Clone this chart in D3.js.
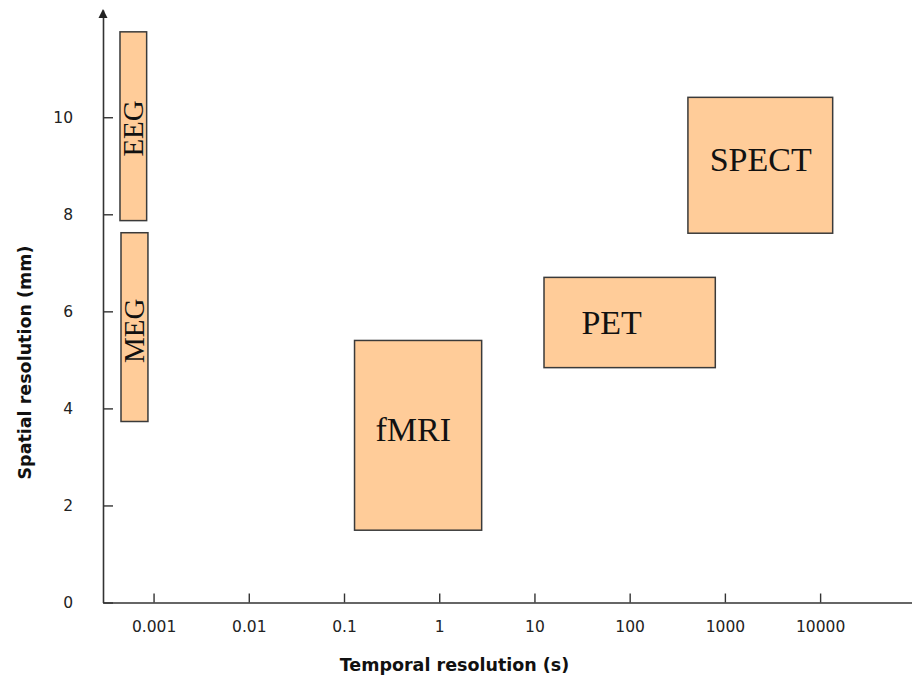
<!DOCTYPE html>
<html>
<head>
<meta charset="utf-8">
<script src="https://cdn.jsdelivr.net/npm/d3@7/dist/d3.min.js"></script>
<style>
  body { margin: 0; background: #fff; }
  svg { display: block; }
</style>
</head>
<body>
<svg id="chart" width="912" height="676"></svg>
<script>
// ---- data ----
const techniques = ["EEG", "MEG", "fMRI", "PET", "SPECT"];
// temporal resolution range (s)
const tMin = [0.000444, 0.000455, 0.129, 12.6, 409];
const tMax = [0.000846, 0.000873, 2.79, 793, 13550];
// spatial resolution range (mm)
const sMin = [7.87, 3.73, 1.49, 4.84, 7.61];
const sMax = [11.76, 7.62, 5.40, 6.70, 10.41];
// label anchor (data units)
const labelT = [0.00061, 0.00063, 0.533, 64.7, 2376];
const labelS = [9.77, 5.60, 3.56, 5.76, 9.12];
const labelVertical = [true, true, false, false, false];

const xTicks = [0.001, 0.01, 0.1, 1, 10, 100, 1000, 10000];
const xTickLabels = ["0.001", "0.01", "0.1", "1", "10", "100", "1000", "10000"];
const yTicks = [0, 2, 4, 6, 8, 10];
const yTickLabels = ["0", "2", "4", "6", "8", "10"];

const xTitle = "Temporal resolution (s)";
const yTitle = "Spatial resolution (mm)";

(function () {
// ---- layout ----
const svg = d3.select("#chart");
const mLeft = 103, mRight = 912, mBottom = 602.5, mTop = 10;

const x = d3.scaleLog()
  .domain([Math.pow(10, -3.531), Math.pow(10, 4.965)])
  .range([mLeft, mRight]);
const y = d3.scaleLinear()
  .domain([0, 12.21])
  .range([mBottom, mTop]);

const rows = techniques.map((name, i) => ({
  name, t0: tMin[i], t1: tMax[i], s0: sMin[i], s1: sMax[i],
  lt: labelT[i], ls: labelS[i], vert: labelVertical[i]
}));

// rectangles
svg.append("g").selectAll("rect").data(rows).join("rect")
  .attr("x", d => x(d.t0))
  .attr("y", d => y(d.s1))
  .attr("width", d => x(d.t1) - x(d.t0))
  .attr("height", d => y(d.s0) - y(d.s1))
  .attr("fill", "#FFCC99")
  .attr("stroke", "#3a3a3a")
  .attr("stroke-width", 1.5);

// labels
svg.append("g").selectAll("text").data(rows).join("text")
  .attr("transform", d => d.vert
      ? `translate(${(x(d.t0) + x(d.t1)) / 2},${y(d.ls)}) rotate(-90)`
      : `translate(${x(d.lt)},${y(d.ls)})`)
  .attr("text-anchor", "middle")
  .attr("dominant-baseline", "central")
  .attr("font-family", "'Liberation Serif', 'Times New Roman', serif")
  .attr("font-size", d => d.vert ? 29 : 34)
  .attr("fill", "#111")
  .text(d => d.name);

// axes
const xAxis = d3.axisBottom(x)
  .tickValues(xTicks)
  .tickFormat((d, i) => xTickLabels[i])
  .tickSizeInner(-9).tickSizeOuter(0).tickPadding(18);
const yAxis = d3.axisLeft(y)
  .tickValues(yTicks)
  .tickFormat((d, i) => yTickLabels[i])
  .tickSizeInner(-10).tickSizeOuter(0).tickPadding(30);

const gx = svg.append("g").attr("transform", `translate(0,${mBottom})`).call(xAxis);
const gy = svg.append("g").attr("transform", `translate(${mLeft},0)`).call(yAxis);

[gx, gy].forEach(g => {
  g.select(".domain").attr("stroke", "#333").attr("stroke-width", 1.6);
  g.selectAll(".tick line").attr("stroke", "#333").attr("stroke-width", 1.4);
  g.selectAll(".tick text")
    .attr("font-family", "'DejaVu Sans', Verdana, sans-serif")
    .attr("font-size", 15.5)
    .attr("fill", "#222");
});

// arrow head on y axis
svg.append("path")
  .attr("d", d3.line()([[mLeft - 4.5, mTop + 8], [mLeft, mTop - 1], [mLeft + 4.5, mTop + 8]]) + "Z")
  .attr("fill", "#222");

// titles
svg.append("text")
  .attr("x", 454.5)
  .attr("y", 671)
  .attr("text-anchor", "middle")
  .attr("font-family", "'DejaVu Sans', Verdana, sans-serif")
  .attr("font-weight", "bold")
  .attr("font-size", 17.5)
  .attr("fill", "#111")
  .text(xTitle);

svg.append("text")
  .attr("transform", `translate(31,362.5) rotate(-90)`)
  .attr("text-anchor", "middle")
  .attr("font-family", "'DejaVu Sans', Verdana, sans-serif")
  .attr("font-weight", "bold")
  .attr("font-size", 17.5)
  .attr("fill", "#111")
  .text(yTitle);
})();
</script>
</body>
</html>
